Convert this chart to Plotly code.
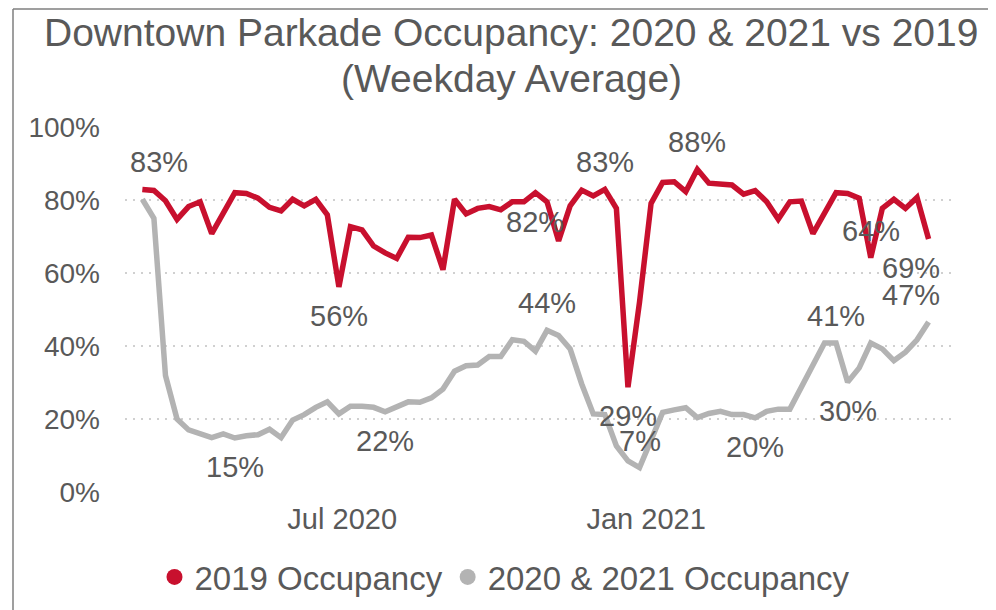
import pandas as pd
import plotly.graph_objects as go

# ---- data ----
start_week = "2020-03-02"
n_weeks = 69
weeks = pd.date_range(start_week, periods=n_weeks, freq="7D")

occ_2019 = [82.9, 82.6, 79.8, 74.7, 78.2, 79.5, 70.8, 76.4, 82.0, 81.8,
            80.5, 78.0, 77.0, 80.2, 78.4, 80.2, 75.9, 56.2, 72.7, 71.8,
            67.4, 65.5, 64.0, 69.8, 69.7, 70.4, 60.9, 80.2, 76.2, 77.7,
            78.2, 77.3, 79.5, 79.5, 82.0, 79.5, 68.8, 78.4, 82.7, 81.1,
            82.9, 77.7, 28.7, 52.0, 79.1, 84.8, 85.0, 82.3, 88.4, 84.6,
            84.4, 84.1, 81.6, 82.6, 79.5, 74.7, 79.5, 79.7, 70.8, 76.5,
            82.0, 81.8, 80.5, 64.2, 77.7, 80.2, 77.7, 80.7, 69.3]

occ_2020_21 = [80.2, 75.0, 31.9, 20.0, 17.0, 15.9, 14.9, 15.9, 14.8, 15.4,
               15.7, 17.2, 14.9, 19.7, 21.2, 23.2, 24.7, 21.4, 23.5, 23.5,
               23.2, 22.0, 23.5, 24.7, 24.6, 25.8, 28.2, 33.1, 34.6, 34.8,
               37.1, 37.1, 41.7, 41.3, 38.6, 44.3, 42.9, 39.2, 29.6, 21.4,
               21.2, 12.6, 8.5, 6.7, 14.2, 21.8, 22.5, 23.1, 20.4, 21.5,
               22.1, 21.2, 21.2, 20.3, 22.1, 22.7, 22.7, 28.7, 34.8, 40.8,
               40.8, 30.1, 34.0, 40.8, 39.2, 36.0, 38.3, 41.7, 46.6]

series_names = ["2019 Occupancy", "2020 & 2021 Occupancy"]
x_tick_dates = ["2020-07-01", "2021-01-01"]
x_tick_labels = ["Jul 2020", "Jan 2021"]
y_ticks = [0, 20, 40, 60, 80, 100]
y_tick_labels = [f"{v}%" for v in y_ticks]
title_lines = ["Downtown Parkade Occupancy: 2020 & 2021 vs 2019", "(Weekday Average)"]

# labelled points (index into series), with placement
labels_2019 = [(0, "above", 17), (17, "below", 0), (34, "below", 0), (40, "above", 0),
               (42, "below", 0), (48, "above", 0), (63, "above", 0), (68, "below", -18)]
labels_2020 = [(8, "below", 0), (21, "below", 0), (35, "above", 0), (43, "above", 0),
               (53, "below", 0), (60, "above", 0), (61, "below", 0), (68, "above", -18)]

RED = "#C8102E"
GREY = "#B3B3B3"
TXT = "#595959"
FONT = "Liberation Sans, Arial, sans-serif"

# page offset (browser body margin)
OFF = 8
W, H = 996, 610
L, T = 125 - OFF, 127 - OFF
R = W - (955 - OFF)
B = H - (492 - OFF)
pw, ph = W - L - R, H - T - B


def px_x(page_x):
    return (page_x - OFF - L) / pw


def px_y(page_y):
    return (H - B - (page_y - OFF)) / ph


fig = go.Figure()
fig.add_trace(go.Scatter(x=weeks, y=occ_2019, mode="lines", name=series_names[0],
                         line=dict(color=RED, width=5.5), showlegend=False))
fig.add_trace(go.Scatter(x=weeks, y=occ_2020_21, mode="lines", name=series_names[1],
                         line=dict(color=GREY, width=5.5), showlegend=False))
# legend entries with round markers (as in the reference)
fig.add_trace(go.Scatter(x=[None], y=[None], mode="markers", name=series_names[0],
                         marker=dict(color=RED, size=17)))
fig.add_trace(go.Scatter(x=[None], y=[None], mode="markers", name=series_names[1],
                         marker=dict(color=GREY, size=17)))

annotations = []
for series, labels in ((occ_2019, labels_2019), (occ_2020_21, labels_2020)):
    for idx, pos, dx in labels:
        v = series[idx]
        annotations.append(dict(
            x=weeks[idx], y=v, xref="x", yref="y",
            text=f"{int(v + 0.5)}%", showarrow=False,
            yshift=27 if pos == "above" else -29, xshift=dx,
            xanchor="center", yanchor="middle",
            font=dict(family=FONT, size=29, color=TXT)))

for line, cy in zip(title_lines, (33, 78)):
    annotations.append(dict(x=px_x(511), y=px_y(cy), xref="paper", yref="paper",
                            text=line, showarrow=False, xanchor="center", yanchor="middle",
                            font=dict(family=FONT, size=39, color=TXT)))

bx = px_x(13)
by = px_y(9)
shapes = [
    dict(type="line", xref="paper", yref="paper", x0=bx, x1=bx, y0=-0.6, y1=by,
         line=dict(color="#7F7F7F", width=1.5)),
    dict(type="line", xref="paper", yref="paper", x0=bx, x1=1.3, y0=by, y1=by,
         line=dict(color="#7F7F7F", width=1.5)),
]

fig.update_layout(
    width=W, height=H,
    margin=dict(l=L, r=R, t=T, b=B),
    paper_bgcolor="white", plot_bgcolor="white",
    font=dict(family=FONT, color=TXT),
    xaxis=dict(range=["2020-02-20 12:00", "2021-07-07"], type="date",
               tickvals=x_tick_dates, ticktext=x_tick_labels,
               showgrid=False, zeroline=False, showline=False, ticks="",
               tickfont=dict(family=FONT, size=29, color=TXT),
               ticklabelstandoff=7),
    yaxis=dict(range=[0, 100], tickvals=y_ticks, ticktext=y_tick_labels,
               showgrid=True, gridcolor="#D0D0D0", griddash="2px,6px", gridwidth=1.5,
               zeroline=False, showline=False, ticks="",
               tickfont=dict(family=FONT, size=28, color=TXT),
               ticklabelstandoff=24),
    legend=dict(orientation="h", x=px_x(505), xanchor="center",
                y=px_y(577), yanchor="middle",
                font=dict(family=FONT, size=33, color=TXT),
                itemwidth=30, tracegroupgap=0, bgcolor="rgba(0,0,0,0)"),
    annotations=annotations,
    shapes=shapes,
    showlegend=True,
)

fig.write_html("out.html")
